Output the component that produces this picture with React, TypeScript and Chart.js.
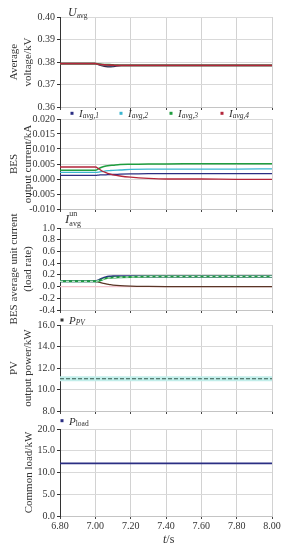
import React, { useEffect, useRef } from 'react';
import { Chart, registerables } from 'chart.js';

Chart.register(...registerables);

const FONT = '"Liberation Serif", "DejaVu Serif", serif';

// ---------- data ----------
const xTicks = [6.80, 7.00, 7.20, 7.40, 7.60, 7.80, 8.00];

// Panel 1: average voltage (kV)
const voltTicks = [0.36, 0.37, 0.38, 0.39, 0.40];
const tVolt = [6.80, 7.00, 7.02, 7.04, 7.06, 7.08, 7.10, 7.12, 7.15, 7.20, 7.40, 7.60, 7.80, 8.00];
const uAvg1 = [0.3793, 0.3793, 0.3788, 0.3783, 0.3780, 0.3779, 0.3780, 0.3782, 0.3784, 0.3785, 0.3785, 0.3785, 0.3785, 0.3785];
const uAvg2 = [0.3793, 0.3793, 0.3790, 0.3787, 0.3785, 0.3784, 0.3784, 0.3785, 0.3785, 0.3785, 0.3785, 0.3785, 0.3785, 0.3785];
const uAvg3 = [0.3793, 0.3793, 0.3791, 0.3789, 0.3788, 0.3788, 0.3787, 0.3786, 0.3785, 0.3785, 0.3785, 0.3785, 0.3785, 0.3785];
const uAvg4 = [0.3793, 0.3793, 0.3790, 0.3788, 0.3787, 0.3786, 0.3786, 0.3785, 0.3785, 0.3785, 0.3785, 0.3785, 0.3785, 0.3785];

// Panel 2: BES output current (kA)
const curTicks = [-0.010, -0.005, 0.000, 0.005, 0.010, 0.015, 0.020];
const tCur = [6.80, 7.00, 7.02, 7.04, 7.06, 7.08, 7.10, 7.14, 7.20, 7.30, 7.40, 7.60, 7.80, 8.00];
const iAvg1 = [0.0012, 0.0012, 0.0013, 0.0014, 0.0014, 0.0015, 0.0015, 0.0016, 0.0017, 0.0018, 0.0018, 0.0018, 0.0018, 0.0018];
const iAvg2 = [0.0022, 0.0022, 0.0023, 0.0025, 0.0027, 0.0028, 0.0029, 0.0030, 0.0032, 0.0033, 0.0033, 0.0033, 0.0033, 0.0034];
const iAvg3 = [0.0029, 0.0029, 0.0035, 0.0040, 0.0043, 0.0045, 0.0046, 0.0048, 0.0049, 0.0050, 0.0050, 0.0051, 0.0051, 0.0051];
const iAvg4 = [0.0040, 0.0040, 0.0034, 0.0026, 0.0021, 0.0017, 0.0014, 0.0010, 0.0006, 0.0002, 0.0000, 0.0000, -0.0001, -0.0001];

// Panel 3: BES average unit current (load rate)
const rateTicks = [-0.4, -0.2, 0.0, 0.2, 0.4, 0.6, 0.8, 1.0];
const tRate = [6.80, 7.00, 7.02, 7.04, 7.06, 7.08, 7.10, 7.14, 7.20, 7.30, 7.40, 7.60, 7.80, 8.00];
const rate1 = [0.09, 0.09, 0.11, 0.14, 0.16, 0.17, 0.175, 0.178, 0.175, 0.172, 0.170, 0.170, 0.170, 0.170];
const rate3 = [0.09, 0.09, 0.10, 0.12, 0.14, 0.15, 0.155, 0.160, 0.165, 0.170, 0.170, 0.172, 0.172, 0.172];
const rate4 = [0.09, 0.09, 0.075, 0.06, 0.045, 0.035, 0.026, 0.015, 0.007, 0.002, 0.0, 0.0, 0.0, 0.0];
const tZero = [6.80, 8.00];
const rateZero = [0.0, 0.0];

// Panel 4: PV output power (kW)
const pvTicks = [8.0, 10.0, 12.0, 14.0, 16.0];
const tPV = [6.80, 7.20, 7.60, 8.00];
const pPV = [11.0, 11.0, 11.0, 11.0];

// Panel 5: common load (kW)
const loadTicks = [0.0, 5.0, 10.0, 15.0, 20.0];
const tLoad = [6.80, 7.40, 8.00];
const pLoad = [12.1, 12.1, 12.1];

const legendSubs = ['avg,1', 'avg,2', 'avg,3', 'avg,4'];

const NAVY = '#2b2e83';
const CYAN = '#3ab5d0';
const GREEN = '#1f9d3f';
const RED = '#b3263b';
const BROWN = '#5a3526';

// ---------- helpers ----------
type Part = { text: string; italic?: boolean; size: number; dy?: number; stay?: boolean };
type Item = { x: number; y: number; marker?: string; markerY?: number; parts: Part[] };

const labelPlugin = {
  id: 'panelLabels',
  afterDraw(chart: any, _args: any, opts: any) {
    const items: Item[] = (opts && opts.items) || [];
    const ctx = chart.ctx as CanvasRenderingContext2D;
    ctx.save();
    for (const it of items) {
      let x = it.x;
      if (it.marker) {
        ctx.fillStyle = it.marker;
        ctx.fillRect(x - 1.5, (it.markerY ?? it.y) - 1.5, 3, 3);
        x += 7;
      }
      ctx.fillStyle = '#333';
      ctx.textBaseline = 'alphabetic';
      ctx.textAlign = 'left';
      for (const p of it.parts) {
        ctx.font = `${p.italic ? 'italic ' : ''}${p.size}px ${FONT}`;
        ctx.fillText(p.text, x, it.y + (p.dy || 0));
        if (!p.stay) x += ctx.measureText(p.text).width;
      }
    }
    ctx.restore();
  },
};

function pts(xs: number[], ys: number[]) {
  return xs.map((x, i) => ({ x, y: ys[i] }));
}

function line(label: string, xs: number[], ys: number[], color: string, width: number, extra: any = {}) {
  return {
    label,
    data: pts(xs, ys),
    borderColor: color,
    backgroundColor: color,
    borderWidth: width,
    pointRadius: 0,
    fill: false,
    cubicInterpolationMode: 'monotone',
    ...extra,
  };
}

type PanelSpec = {
  top: number;
  height: number;
  padTop: number;
  padBottom: number;
  xAxisH: number;
  showX: boolean;
  yTicks: number[];
  yDec: number;
  yTitle: string | string[];
  yTitlePad: number;
  datasets: any[];
  labels: Item[];
};

function makeConfig(p: PanelSpec): any {
  const yMin = p.yTicks[0];
  const yMax = p.yTicks[p.yTicks.length - 1];
  return {
    type: 'line',
    data: { datasets: p.datasets },
    options: {
      animation: false,
      responsive: false,
      events: [],
      layout: { padding: { top: p.padTop, bottom: p.padBottom, left: 0, right: 12 } },
      plugins: {
        legend: { display: false },
        tooltip: { enabled: false },
        panelLabels: { items: p.labels },
      },
      scales: {
        x: {
          type: 'linear',
          min: xTicks[0],
          max: xTicks[xTicks.length - 1],
          afterBuildTicks: (s: any) => {
            s.ticks = xTicks.map((v) => ({ value: v }));
          },
          ticks: {
            display: p.showX,
            padding: 1,
            maxRotation: 0,
            autoSkip: false,
            color: '#333',
            font: { family: FONT, size: 10 },
            callback: (v: any) => Number(v).toFixed(2),
          },
          grid: { color: '#d2d2d2', tickColor: '#444', tickLength: 3, drawTicks: true },
          border: { color: '#c4c4c4' },
          afterFit: (s: any) => {
            s.height = p.xAxisH;
          },
        },
        y: {
          type: 'linear',
          min: yMin,
          max: yMax,
          afterBuildTicks: (s: any) => {
            s.ticks = p.yTicks.map((v) => ({ value: v }));
          },
          ticks: {
            padding: 2,
            autoSkip: false,
            color: '#333',
            font: { family: FONT, size: 10 },
            callback: (v: any) => Number(v).toFixed(p.yDec),
          },
          grid: { color: '#d9d9d9', tickColor: '#333', tickLength: 3 },
          border: { color: '#333' },
          title: {
            display: true,
            text: p.yTitle,
            color: '#333',
            font: { family: FONT, size: 11, lineHeight: 1.3 },
            padding: { top: p.yTitlePad, bottom: 0 },
          },
          afterFit: (s: any) => {
            s.width = 60;
          },
        },
      },
    },
    plugins: [labelPlugin],
  };
}

const legendColors = [NAVY, CYAN, GREEN, RED];
const legendX = [72, 121, 171, 222];

const panels: PanelSpec[] = [
  {
    top: 0, height: 117, padTop: 17, padBottom: 6, xAxisH: 4, showX: false,
    yTicks: voltTicks, yDec: 2,
    yTitle: ['Average', 'voltage/kV'], yTitlePad: 7,
    datasets: [
      line('U4', tVolt, uAvg4, RED, 1.7),
      line('U3', tVolt, uAvg3, GREEN, 1.7),
      line('U2', tVolt, uAvg2, CYAN, 1.2),
      line('U1', tVolt, uAvg1, '#3a2a4a', 1.5),
    ],
    labels: [
      { x: 68, y: 16, parts: [{ text: 'U', italic: true, size: 12 }, { text: 'avg', size: 7.5, dy: 1.5 }] },
    ],
  },
  {
    top: 106, height: 113, padTop: 13, padBottom: 6, xAxisH: 4, showX: false,
    yTicks: curTicks, yDec: 3,
    yTitle: ['BES', 'output current/kA'], yTitlePad: 7,
    datasets: [
      line('I4', tCur, iAvg4, RED, 1.3),
      line('I3', tCur, iAvg3, GREEN, 1.5),
      line('I2', tCur, iAvg2, CYAN, 1.3),
      line('I1', tCur, iAvg1, NAVY, 1.3),
    ],
    labels: legendColors.map((c, i) => ({
      x: legendX[i], y: 10.5, marker: c, markerY: 7.3,
      parts: [{ text: 'I', italic: true, size: 11 }, { text: legendSubs[i], italic: true, size: 7.5, dy: 1.5 }],
    })),
  },
  {
    top: 196, height: 140, padTop: 32, padBottom: 22, xAxisH: 4, showX: false,
    yTicks: rateTicks, yDec: 1,
    yTitle: ['BES average unit current', '(load rate)'], yTitlePad: 7,
    datasets: [
      line('dash', tRate, rate3, '#e6f4ee', 1, { borderDash: [3, 3] }),
      line('R3', tRate, rate3, GREEN, 2),
      line('R1', tRate, rate1, NAVY, 2),
      line('R4', tRate, rate4, BROWN, 1.3),
      line('zero', tZero, rateZero, '#f3c3cc', 1.2),
    ],
    labels: [
      {
        x: 65, y: 27,
        parts: [
          { text: 'I', italic: true, size: 13 },
          { text: 'un', size: 8, dy: -7, stay: true },
          { text: 'avg', size: 8, dy: 2.5 },
        ],
      },
    ],
  },
  {
    top: 312, height: 109, padTop: 13, padBottom: 6, xAxisH: 4, showX: false,
    yTicks: pvTicks, yDec: 1,
    yTitle: ['PV', 'output power/kW'], yTitlePad: 7,
    datasets: [
      line('PVline', tPV, pPV, '#33584c', 1, { borderDash: [4, 2] }),
      line('PVband', tPV, pPV, '#c2eeea', 5),
    ],
    labels: [
      { x: 62, y: 11.5, marker: '#333', markerY: 8, parts: [{ text: 'P', italic: true, size: 11 }, { text: 'PV', italic: true, size: 7.5, dy: 1.5 }] },
    ],
  },
  {
    top: 414, height: 136, padTop: 15, padBottom: 2, xAxisH: 32, showX: true,
    yTicks: loadTicks, yDec: 1,
    yTitle: 'Common load/kW', yTitlePad: 22,
    datasets: [
      line('Pload', tLoad, pLoad, NAVY, 1.8),
    ],
    labels: [
      { x: 62, y: 10.5, marker: NAVY, markerY: 6.7, parts: [{ text: 'P', italic: true, size: 11 }, { text: 'load', size: 7.5, dy: 1.5 }] },
      { x: 163, y: 129, parts: [{ text: 't', italic: true, size: 12 }, { text: '/s', size: 12 }] },
    ],
  },
];

export default function App() {
  const refs = useRef<(HTMLCanvasElement | null)[]>([]);

  useEffect(() => {
    document.body.style.margin = '0';
    document.body.style.background = '#fff';
    const charts = panels.map((p, i) => {
      const c = refs.current[i] as HTMLCanvasElement;
      return new Chart(c, makeConfig(p));
    });
    return () => {
      charts.forEach((ch) => ch.destroy());
    };
  }, []);

  return (
    <div style={{ position: 'relative', width: 284, height: 550, background: '#fff', overflow: 'hidden' }}>
      {panels.map((p, i) => (
        <canvas
          key={i}
          ref={(el) => {
            refs.current[i] = el;
          }}
          width={284}
          height={p.height}
          style={{ position: 'absolute', left: 0, top: p.top, width: 284, height: p.height }}
        />
      ))}
    </div>
  );
}
